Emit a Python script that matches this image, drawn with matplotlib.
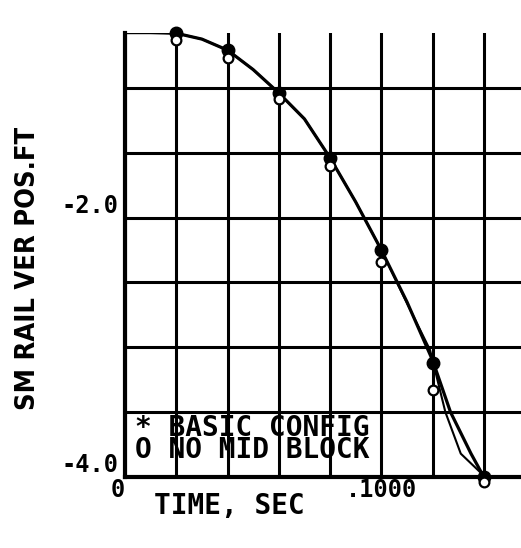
import numpy as np
import matplotlib
matplotlib.use('Agg')
import matplotlib.pyplot as plt

# curves (time in s, position in ft)
basic_t = [0.0, 0.01, 0.02, 0.03, 0.04, 0.05, 0.06, 0.07, 0.08, 0.09, 0.10, 0.11, 0.12, 0.127, 0.135, 0.14]
basic_y = [-0.575, -0.575, -0.58, -0.625, -0.71, -0.86, -1.04, -1.24, -1.54, -1.88, -2.25, -2.65, -3.10, -3.50, -3.82, -4.0]

nomid_t = [0.0, 0.01, 0.02, 0.03, 0.04, 0.05, 0.06, 0.07, 0.08, 0.09, 0.10, 0.11, 0.119, 0.125, 0.131, 0.14]
nomid_y = [-0.575, -0.575, -0.58, -0.625, -0.71, -0.86, -1.04, -1.24, -1.54, -1.88, -2.25, -2.66, -3.02, -3.50, -3.82, -3.99]

# symbol positions
mark_t = [0.02, 0.04, 0.06, 0.08, 0.10, 0.12, 0.14]
star_y = [-0.575, -0.71, -1.04, -1.54, -2.25, -3.12, -4.0]
circ_y = [-0.63, -0.77, -1.09, -1.60, -2.34, -3.33, -4.04]

x_grid = [0.0, 0.02, 0.04, 0.06, 0.08, 0.10, 0.12, 0.14]
x_labels = ['0', '', '', '', '', '.1000', '', '']
y_grid = [-4.0, -3.5, -3.0, -2.5, -2.0, -1.5, -1.0]
y_labels = ['-4.0', '', '', '', '-2.0', '', '']

MONO = 'DejaVu Sans Mono'

fig = plt.figure(figsize=(5.21, 5.48), dpi=100)
ax = fig.add_axes([125 / 521, 1 - 477 / 548, 396 / 521, 444 / 548])

ax.plot(basic_t, basic_y, color='black', linewidth=2.3, zorder=3)
ax.plot(nomid_t, nomid_y, color='black', linewidth=1.5, zorder=3)
ax.plot(mark_t, star_y, linestyle='none', marker='o', markersize=9,
        color='black', zorder=4, clip_on=False)
ax.plot(mark_t, circ_y, linestyle='none', marker='o', markersize=7,
        markerfacecolor='white', markeredgecolor='black', markeredgewidth=1.6,
        zorder=4, clip_on=False)

ax.set_xlim(0, 0.1545)
ax.set_ylim(-4.0, -0.578)

ax.set_xticks(x_grid)
ax.set_xticklabels(x_labels)
ax.set_yticks(y_grid)
ax.set_yticklabels(y_labels)
ax.tick_params(length=0, pad=1)
ax.tick_params(axis='y', pad=5)
for lab in ax.get_xticklabels() + ax.get_yticklabels():
    lab.set_family(MONO)
    lab.set_fontweight('bold')
    lab.set_fontsize(17)
ax.get_xticklabels()[0].set_ha('right')
for lab in ax.get_yticklabels():
    lab.set_va('bottom')

ax.grid(True, color='black', linewidth=2.2)
ax.set_axisbelow(True)
ax.spines['top'].set_visible(False)
ax.spines['right'].set_visible(False)
ax.spines['left'].set_linewidth(3)
ax.spines['bottom'].set_linewidth(3)

ax.text(0.025, 0.086, '* BASIC CONFIG\nO NO MID BLOCK', transform=ax.transAxes,
        family=MONO, fontweight='bold', fontsize=20, va='center', ha='left',
        linespacing=0.72)

fig.text(28 / 521, 1 - 268 / 548, 'SM RAIL VER POS.FT', rotation=90,
         family='DejaVu Sans', stretch='condensed', fontweight='bold',
         fontsize=19.5, ha='center', va='center')
fig.text(229 / 521, 1 - 506 / 548, 'TIME, SEC', family=MONO,
         fontweight='bold', fontsize=20, ha='center', va='center')

fig.savefig('out.png', dpi=100, facecolor='white')
